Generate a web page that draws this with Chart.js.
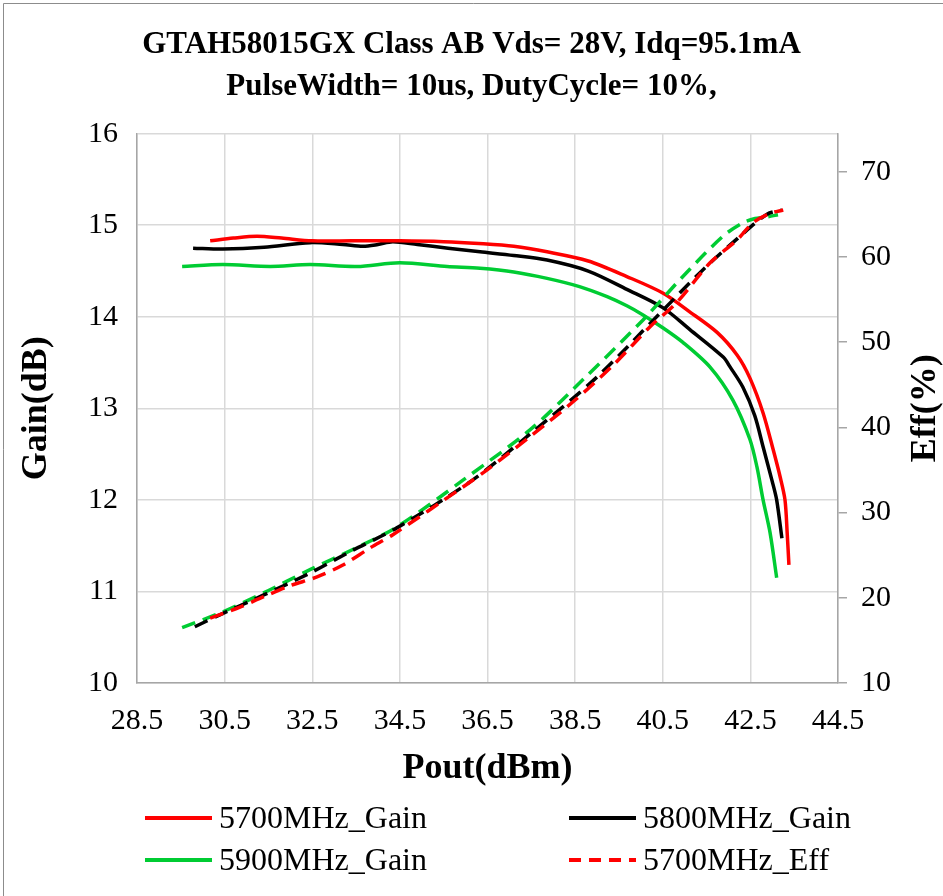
<!DOCTYPE html>
<html>
<head>
<meta charset="utf-8">
<script src="https://cdn.jsdelivr.net/npm/chart.js@4.4.1/dist/chart.umd.min.js"></script>
<style>
  html, body { margin: 0; padding: 0; background: #fff; }
  #wrap { width: 943px; height: 896px; position: relative; }
</style>
</head>
<body>
<div id="wrap"><canvas id="myChart" width="943" height="896"></canvas></div>
<script>
// Pout (dBm) / Gain (dB) / Eff (%)
const pout5700Gain = [30.17, 30.7, 31.24, 31.8, 32.5, 33.4, 34.5, 35.5, 36.3, 37.1, 37.86, 38.8, 39.68, 40.5, 41.1, 41.74, 42.2, 42.49, 42.79, 43.02, 43.18, 43.29, 43.34, 43.38]
const gain5700 = [14.83, 14.86, 14.88, 14.86, 14.83, 14.83, 14.83, 14.82, 14.80, 14.77, 14.71, 14.61, 14.44, 14.26, 14.06, 13.83, 13.58, 13.33, 12.95, 12.55, 12.25, 12.0, 11.64, 11.29]

const pout5800Gain = [29.78, 30.46, 31.4, 32.45, 33.2, 33.66, 34.0, 34.34, 34.9, 35.6, 36.33, 37.1, 37.86, 38.8, 39.68, 40.5, 41.12, 41.88, 42.04, 42.33, 42.6, 42.79, 43.0, 43.1, 43.22]
const gain5800 = [14.75, 14.74, 14.76, 14.81, 14.79, 14.77, 14.79, 14.82, 14.79, 14.75, 14.71, 14.67, 14.62, 14.50, 14.30, 14.10, 13.86, 13.56, 13.45, 13.23, 12.92, 12.58, 12.2, 12.0, 11.58]

const pout5900Gain = [29.53, 30.46, 31.54, 32.45, 33.52, 34.5, 35.58, 36.33, 37.1, 37.86, 38.6, 39.23, 39.68, 40.05, 40.5, 40.96, 41.58, 42.1, 42.49, 42.65, 42.79, 42.95, 43.1]
const gain5900 = [14.55, 14.57, 14.55, 14.57, 14.55, 14.59, 14.55, 14.53, 14.49, 14.42, 14.33, 14.22, 14.12, 14.02, 13.88, 13.72, 13.45, 13.09, 12.66, 12.36, 12.0, 11.64, 11.15]

const pout5700Eff = [30.17, 30.85, 31.38, 31.99, 32.61, 33.2, 33.82, 34.34, 35.94, 36.49, 37.47, 38.5, 39.37, 40.21, 40.83, 41.58, 42.2, 42.56, 42.95, 43.25]
const eff5700 = [17.6, 18.9, 20.1, 21.4, 22.45, 23.85, 25.85, 27.4, 33.0, 35.0, 38.9, 43.2, 47.3, 51.8, 54.7, 59.3, 62.0, 64.0, 65.1, 65.5]

const pout5800Eff = [29.82, 30.39, 31.38, 32.45, 33.36, 34.43, 36.1, 37.47, 39.0, 40.44, 41.42, 42.26, 42.88, 43.22]
const eff5800 = [16.6, 18.0, 20.3, 22.9, 25.4, 28.2, 33.6, 39.2, 45.9, 53.4, 58.5, 62.4, 65.0, 65.5]

const pout5900Eff = [29.53, 30.39, 31.4, 32.45, 33.5, 34.43, 35.94, 37.47, 38.68, 40.05, 40.96, 41.87, 42.33, 42.61, 42.9, 43.13]
const eff5900 = [16.5, 18.2, 20.6, 23.3, 25.85, 28.3, 33.8, 39.7, 45.6, 52.6, 57.7, 62.4, 64.0, 64.5, 64.7, 64.95]

const seriesNames = ['5700MHz_Gain', '5800MHz_Gain', '5900MHz_Gain', '5700MHz_Eff', '5800MHz_Eff', '5900MHz_Eff']
const seriesColors = ['#ff0000', '#000000', '#00cc33', '#ff0000', '#000000', '#00cc33']
const xTicks = [28.5, 30.5, 32.5, 34.5, 36.5, 38.5, 40.5, 42.5, 44.5]
const gainTicks = [10, 11, 12, 13, 14, 15, 16]
const effTicks = [10, 20, 30, 40, 50, 60, 70]

const serif = "'Liberation Serif', 'Times New Roman', serif"
const dash = [14, 8]

function pts(xs, ys) {
  return xs.map((x, i) => ({ x: x, y: ys[i] }))
}

function mkSet(i, xs, ys, axis, dashed) {
  return {
    label: seriesNames[i],
    data: pts(xs, ys),
    yAxisID: axis,
    borderColor: seriesColors[i],
    backgroundColor: seriesColors[i],
    borderWidth: 3.5,
    borderDash: dashed ? dash : [],
    pointRadius: 0,
    fill: false,
    tension: 0.3,
    order: dashed ? 0 : 1,
  }
}

const datasets = [
  mkSet(0, pout5700Gain, gain5700, 'y', false),
  mkSet(1, pout5800Gain, gain5800, 'y', false),
  mkSet(2, pout5900Gain, gain5900, 'y', false),
  mkSet(3, pout5700Eff, eff5700, 'y1', true),
  mkSet(4, pout5800Eff, eff5800, 'y1', true),
  mkSet(5, pout5900Eff, eff5900, 'y1', true),
]

// legend only shows the first four series, two per row
const legendShown = [0, 1, 2, 3]

const framePlugin = {
  id: 'frame',
  beforeDraw(chart) {
    const c = chart.ctx
    c.save()
    c.fillStyle = '#fff'
    c.fillRect(0, 0, chart.width, chart.height)
    c.strokeStyle = '#8c8c8c'
    c.lineWidth = 1
    c.beginPath()
    c.moveTo(3.5, chart.height)
    c.lineTo(3.5, 3.5)
    c.lineTo(chart.width, 3.5)
    c.stroke()
    c.restore()
  },
  afterDraw(chart) {
    const c = chart.ctx
    const area = chart.chartArea
    const y1 = chart.scales.y1
    c.save()
    // right axis title, reading bottom to top
    c.font = 'bold 36px ' + serif
    c.fillStyle = '#000'
    c.textAlign = 'center'
    c.textBaseline = 'middle'
    c.translate(y1.right - 17, (area.top + area.bottom) / 2)
    c.rotate(-Math.PI / 2)
    c.fillText('Eff(%)', 0, 0)
    c.restore()

    // legend
    c.save()
    c.font = '32px ' + serif
    c.textBaseline = 'middle'
    c.textAlign = 'left'
    const colX = [145, 569]
    const rowY = [818, 860]
    legendShown.forEach((di, k) => {
      const ds = chart.data.datasets[di]
      const x0 = colX[k % 2]
      const y = rowY[Math.floor(k / 2)]
      c.strokeStyle = ds.borderColor
      c.lineWidth = 4
      c.setLineDash(ds.borderDash.length ? [12, 8] : [])
      c.beginPath()
      c.moveTo(x0, y)
      c.lineTo(x0 + 67, y)
      c.stroke()
      c.setLineDash([])
      c.fillStyle = '#000'
      c.fillText(ds.label, x0 + 74, y + 2)
    })
    c.restore()
  },
}

const ctx = document.getElementById('myChart').getContext('2d')
const myChart = new Chart(ctx, {
  type: 'line',
  data: { datasets: datasets },
  plugins: [framePlugin],
  options: {
    responsive: false,
    maintainAspectRatio: false,
    animation: false,
    layout: { padding: { left: 0, right: 0, top: 0, bottom: 106 } },
    plugins: {
      legend: { display: false },
      tooltip: { enabled: false },
      title: {
        display: true,
        text: ['GTAH58015GX Class AB Vds= 28V, Idq=95.1mA', 'PulseWidth= 10us, DutyCycle= 10%,'],
        color: '#000',
        font: { family: serif, size: 31, weight: 'bold', lineHeight: 1.35 },
        padding: { top: 24, bottom: 26 },
      },
    },
    scales: {
      x: {
        type: 'linear',
        min: xTicks[0],
        max: xTicks[xTicks.length - 1],
        afterBuildTicks: (s) => { s.ticks = xTicks.map(v => ({ value: v })) },
        afterFit: (s) => { s.height = 107 },
        ticks: { color: '#000', font: { family: serif, size: 30 }, padding: 20, maxRotation: 0, callback: (v) => v.toFixed(1) },
        grid: { color: '#d9d9d9', lineWidth: 1.5, drawTicks: false },
        border: { color: '#a6a6a6', width: 1.5 },
        title: { display: true, text: 'Pout(dBm)', color: '#000', font: { family: serif, size: 36, weight: 'bold' }, padding: { top: 0, bottom: 0 } },
      },
      y: {
        position: 'left',
        min: gainTicks[0],
        max: gainTicks[gainTicks.length - 1],
        afterBuildTicks: (s) => { s.ticks = gainTicks.map(v => ({ value: v })) },
        afterFit: (s) => { s.width = 137 },
        ticks: { color: '#000', font: { family: serif, size: 30 }, padding: 19 },
        grid: { color: '#d9d9d9', lineWidth: 1.5, drawTicks: false },
        border: { color: '#a6a6a6', width: 1.5 },
        title: { display: true, text: 'Gain(dB)', color: '#000', font: { family: serif, size: 36, weight: 'bold' }, padding: { top: 15, bottom: 0 } },
      },
      y1: {
        position: 'right',
        min: 10,
        max: 74.45,
        afterBuildTicks: (s) => { s.ticks = effTicks.map(v => ({ value: v })) },
        afterFit: (s) => { s.width = 105 },
        ticks: { color: '#000', font: { family: serif, size: 30 }, padding: 14 },
        grid: { drawOnChartArea: false, drawTicks: true, tickLength: 9, color: '#a6a6a6', lineWidth: 1.5 },
        border: { color: '#a6a6a6', width: 1.5 },
      },
    },
  },
})
</script>
</body>
</html>
